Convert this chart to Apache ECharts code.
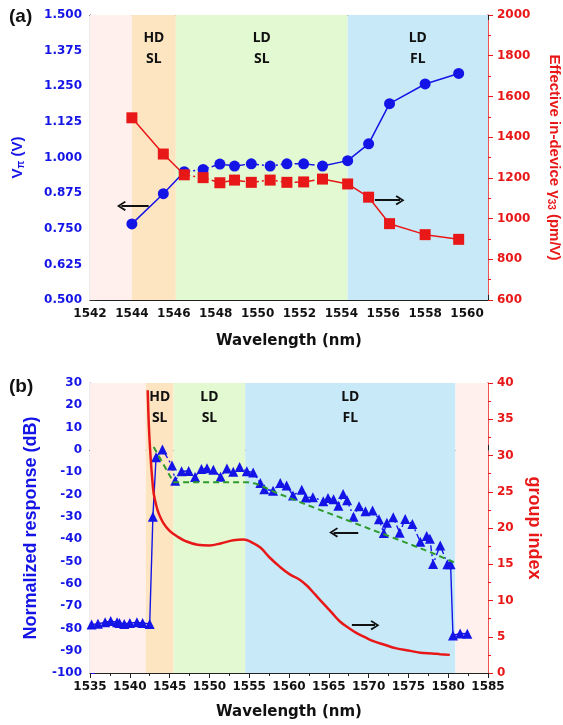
<!DOCTYPE html>
<html>
<head>
<meta charset="utf-8">
<script src="https://cdn.jsdelivr.net/npm/echarts@6/dist/echarts.min.js"></script>
<style>
  html, body { margin: 0; padding: 0; background: #fff; }
  #chart { width: 563px; height: 725px; }
</style>
</head>
<body>
<div id="chart"></div>
<script>
// ---- panel (a) ----
const wlA = [1544.0, 1545.5, 1546.5, 1547.4, 1548.2, 1548.9, 1549.7, 1550.6, 1551.4, 1552.2, 1553.1, 1554.3, 1555.3, 1556.3, 1558.0, 1559.6];
const vpi = [0.767, 0.873, 0.950, 0.958, 0.977, 0.970, 0.978, 0.970, 0.978, 0.978, 0.970, 0.989, 1.048, 1.189, 1.258, 1.295];
const r33 = [1495, 1317, 1215, 1201, 1176, 1189, 1178, 1189, 1178, 1180, 1194, 1170, 1105, 975, 921, 898];
const bandEdgesA = [1542, 1544, 1546.1, 1554.3, 1561];
const bandNamesA = ['', 'HD\nSL', 'LD\nSL', 'LD\nFL'];

// ---- panel (b) ----
const wlB = [1535.2, 1536.0, 1536.9, 1537.6, 1538.4, 1538.7, 1539.3, 1540.0, 1540.9, 1541.6, 1542.5,
  1542.9, 1543.3, 1544.1, 1545.3, 1545.7, 1546.5, 1547.4, 1548.2, 1549.0, 1549.7, 1550.5, 1551.4,
  1552.2, 1553.0, 1553.8, 1554.7, 1555.5, 1556.4, 1556.9, 1558.0, 1558.9, 1559.7, 1560.5, 1561.6,
  1562.1, 1563.0, 1564.3, 1564.9, 1565.6, 1566.2, 1566.8, 1567.3, 1568.1, 1568.8, 1569.6, 1570.5,
  1571.3, 1571.9, 1572.3, 1573.1, 1573.9, 1574.6, 1575.5, 1576.5, 1577.3, 1577.7, 1578.1, 1579.0,
  1579.9, 1580.3, 1580.6, 1581.5, 1582.4];
const resp = [-78.3, -77.9, -77.3, -76.7, -77.3, -77.6, -78.0, -77.6, -77.3, -77.6, -78.0,
  -30, -3.3, 0.2, -7.0, -13.8, -9.6, -9.4, -12.1, -8.5, -8.2, -8.9, -12.0,
  -8.3, -9.8, -7.6, -9.6, -10.1, -14.8, -17.6, -18.3, -14.8, -16.0, -20.4, -17.9,
  -21.3, -21.2, -23.0, -21.5, -22.1, -25.0, -19.8, -22.6, -30.0, -25.2, -27.5, -27.1,
  -31.1, -37.2, -32.6, -30.2, -37.1, -31.0, -33.2, -41.2, -38.6, -39.8, -51.1, -42.8,
  -51.2, -51.2, -83.2, -82.3, -82.4];
const fitWl = [1543.0, 1545.5, 1554.8, 1555.8, 1556.8, 1558.0, 1562.0, 1566.0, 1570.0, 1574.0, 1578.0, 1580.8];
const fitResp = [1.3, -14.5, -14.5, -15.1, -16.5, -18.6, -24.3, -29.7, -35.2, -40.6, -46.2, -50.5];
const ngWl = [1542.25, 1542.4, 1542.6, 1542.8, 1543.0, 1543.3, 1543.6, 1544.2, 1545.0, 1546.0, 1547.0,
  1548.5, 1550.0, 1551.5, 1553.0, 1554.3, 1555.2, 1556.4, 1557.5, 1558.9, 1560.1, 1561.3, 1562.3,
  1563.3, 1564.3, 1565.4, 1566.4, 1567.5, 1568.5, 1569.6, 1570.6, 1572.0, 1573.5, 1575.0, 1576.5,
  1578.0, 1579.0, 1580.2];
const ng = [39, 34, 30, 27, 24.8, 23.2, 22.1, 20.7, 19.6, 18.8, 18.2,
  17.7, 17.6, 17.9, 18.3, 18.4, 18.1, 17.3, 16.0, 14.6, 13.6, 12.9, 12.0,
  10.8, 9.6, 8.3, 7.1, 6.2, 5.5, 4.9, 4.4, 3.9, 3.4, 3.1, 2.8,
  2.7, 2.6, 2.5];
const bandEdgesB = [1535, 1542, 1545.5, 1554.5, 1580.9, 1585];
const bandNamesB = ['', 'HD\nSL', 'LD\nSL', 'LD\nFL', ''];

// styling
const BLUE = '#1414e6', RED = '#e81818', GREEN = '#2f9b2f';
const bandColorsA = ['#fff0ee', '#fde5c2', '#e2f9d1', '#c8eaf8'];
const bandColorsB = ['#fff0ee', '#fde5c2', '#e2f9d1', '#c8eaf8', '#fff0ee'];
const tickFont = { fontFamily: 'DejaVu Sans', fontWeight: 'bold', fontSize: 12 };
const dashDot = [6, 3, 2, 3];
const chevron = 'path://M5,0 L10,8 L8.6,9.2 L5,3.2 L1.4,9.2 L0,8 Z';
const plain = v => String(v);

function pairs(xs, ys, from, to) {
  const out = [];
  for (let i = from; i < to; i++) out.push([xs[i], ys[i]]);
  return out;
}
function areas(edges, names, colors) {
  return edges.slice(0, -1).map((e, i) => [
    { name: names[i], xAxis: e, itemStyle: { color: colors[i] } },
    { xAxis: edges[i + 1] }
  ]);
}
function arrow(x1, y1, x2, y2) {
  return [{ coord: [x1, y1] }, { coord: [x2, y2] }];
}
function arrowSeries(xi, yi, a) {
  return {
    type: 'line', xAxisIndex: xi, yAxisIndex: yi, data: [], z: 6,
    markLine: { silent: true, symbol: ['none', chevron], symbolSize: [10, 9], label: { show: false },
      lineStyle: { color: '#111', width: 2, type: 'solid' }, data: [a] }
  };
}

function xAxes(gridIndex, min, max, interval, nameGap) {
  return [{
    gridIndex, type: 'value', min, max, interval, position: 'bottom',
    name: 'Wavelength (nm)', nameLocation: 'middle', nameGap,
    nameTextStyle: { fontFamily: 'DejaVu Sans', fontWeight: 'bold', fontSize: 15, color: '#111' },
    axisLine: { lineStyle: { color: '#222', width: 1.2 } },
    axisTick: { inside: true, length: 5, lineStyle: { color: '#222' } },
    minorTick: { show: true, splitNumber: 2, length: 3, lineStyle: { color: '#222' } },
    axisLabel: Object.assign({ color: '#111', margin: 8, formatter: plain, showMaxLabel: (max - min) % interval === 0 }, tickFont),
    splitLine: { show: false }
  }, {
    gridIndex, type: 'value', min, max, interval, position: 'top',
    axisLine: { lineStyle: { color: '#222', width: 1.2 } },
    axisTick: { inside: true, length: 5, lineStyle: { color: '#222' } },
    minorTick: { show: true, splitNumber: 2, length: 3, lineStyle: { color: '#222' } },
    axisLabel: { show: false },
    splitLine: { show: false }
  }];
}

function bandLabel(distance) {
  return {
    show: true, position: 'insideTop', distance, color: '#111',
    fontFamily: 'Noto Sans', fontWeight: 'bold', fontSize: 14, lineHeight: 21
  };
}

const subRich = { sub: { fontSize: 10, fontFamily: 'Liberation Sans', fontWeight: 'bold', padding: [7, 0, 0, 0] } };

const option = {
  animation: false,
  title: [
    { text: '(a)', left: 4, top: 2, textStyle: { fontFamily: 'Liberation Sans', fontWeight: 'bold', fontSize: 19, color: '#111' } },
    { text: '(b)', left: 4, top: 372, textStyle: { fontFamily: 'Liberation Sans', fontWeight: 'bold', fontSize: 19, color: '#111' } }
  ],
  grid: [
    { left: 90, top: 15, width: 398, height: 285, outerBoundsMode: 'none', containLabel: false },
    { left: 90, top: 383, width: 398, height: 290, outerBoundsMode: 'none', containLabel: false }
  ],
  xAxis: [].concat(xAxes(0, 1542, 1561, 2, 34), xAxes(1, 1535, 1585, 5, 32)),
  yAxis: [
    {
      gridIndex: 0, type: 'value', min: 0.5, max: 1.5, interval: 0.125, position: 'left',
      name: 'V{sub|π} (V)', nameLocation: 'middle', nameGap: 64,
      nameTextStyle: { fontFamily: 'Liberation Sans', fontWeight: 'bold', fontSize: 15, color: BLUE, rich: subRich },
      axisLine: { lineStyle: { color: '#333', width: 1.2 } },
      axisTick: { inside: true, length: 5, lineStyle: { color: '#333' } },
      minorTick: { show: true, splitNumber: 2, length: 3, lineStyle: { color: '#333' } },
      axisLabel: Object.assign({ color: BLUE, margin: 8, formatter: v => v.toFixed(3) }, tickFont),
      splitLine: { show: false }
    },
    {
      gridIndex: 0, type: 'value', min: 600, max: 2000, interval: 200, position: 'right',
      name: 'Effective in-device γ{sub|33} (pm/V)', nameLocation: 'middle', nameGap: 58, nameRotate: -90,
      nameTextStyle: { fontFamily: 'Liberation Sans', fontWeight: 'bold', fontSize: 15, color: RED, rich: subRich },
      axisLine: { lineStyle: { color: RED, width: 1.5 } },
      axisTick: { inside: false, length: 5, lineStyle: { color: RED } },
      minorTick: { show: true, splitNumber: 2, length: 3, lineStyle: { color: RED } },
      axisLabel: Object.assign({ color: RED, margin: 9, formatter: plain }, tickFont),
      splitLine: { show: false }
    },
    {
      gridIndex: 1, type: 'value', min: -100, max: 30, interval: 10, position: 'left',
      name: 'Normalized response (dB)', nameLocation: 'middle', nameGap: 50,
      nameTextStyle: { fontFamily: 'Liberation Sans', fontWeight: 'bold', fontSize: 18, color: BLUE },
      axisLine: { lineStyle: { color: '#4a4aa8', width: 1.2 } },
      axisTick: { inside: true, length: 5, lineStyle: { color: BLUE } },
      minorTick: { show: true, splitNumber: 2, length: 3, lineStyle: { color: BLUE } },
      axisLabel: Object.assign({ color: BLUE, margin: 8, formatter: plain }, tickFont),
      splitLine: { show: false }
    },
    {
      gridIndex: 1, type: 'value', min: 0, max: 40, interval: 5, position: 'right',
      name: 'group index', nameLocation: 'middle', nameGap: 36, nameRotate: -90,
      nameTextStyle: { fontFamily: 'Liberation Sans', fontWeight: 'bold', fontSize: 18, color: RED },
      axisLine: { lineStyle: { color: RED, width: 1.5 } },
      axisTick: { inside: false, length: 5, lineStyle: { color: RED } },
      minorTick: { show: true, splitNumber: 2, length: 3, lineStyle: { color: RED } },
      axisLabel: Object.assign({ color: RED, margin: 9, formatter: plain }, tickFont),
      splitLine: { show: false }
    }
  ],
  series: [
    // ---------- (a) ----------
    {
      type: 'line', xAxisIndex: 0, yAxisIndex: 0, data: [], z: 1, silent: true,
      markArea: { silent: true, label: bandLabel(13), data: areas(bandEdgesA, bandNamesA, bandColorsA) }
    },
    { type: 'line', xAxisIndex: 0, yAxisIndex: 0, z: 3, symbol: 'none', data: pairs(wlA, vpi, 0, 3), lineStyle: { color: BLUE, width: 1.5 } },
    { type: 'line', xAxisIndex: 0, yAxisIndex: 0, z: 3, symbol: 'none', data: pairs(wlA, vpi, 2, 11), lineStyle: { color: BLUE, width: 1.5, type: dashDot } },
    { type: 'line', xAxisIndex: 0, yAxisIndex: 0, z: 3, symbol: 'none', data: pairs(wlA, vpi, 10, wlA.length), lineStyle: { color: BLUE, width: 1.5 } },
    { type: 'scatter', xAxisIndex: 0, yAxisIndex: 0, z: 4, symbol: 'circle', symbolSize: 11, data: pairs(wlA, vpi, 0, wlA.length), itemStyle: { color: BLUE, opacity: 1 } },
    { type: 'line', xAxisIndex: 0, yAxisIndex: 1, z: 3, symbol: 'none', data: pairs(wlA, r33, 0, 3), lineStyle: { color: RED, width: 1.5 } },
    { type: 'line', xAxisIndex: 0, yAxisIndex: 1, z: 3, symbol: 'none', data: pairs(wlA, r33, 2, 11), lineStyle: { color: RED, width: 1.5, type: dashDot } },
    { type: 'line', xAxisIndex: 0, yAxisIndex: 1, z: 3, symbol: 'none', data: pairs(wlA, r33, 10, wlA.length), lineStyle: { color: RED, width: 1.5 } },
    { type: 'scatter', xAxisIndex: 0, yAxisIndex: 1, z: 4, symbol: 'rect', symbolSize: 11, data: pairs(wlA, r33, 0, wlA.length), itemStyle: { color: RED, opacity: 1 } },
    arrowSeries(0, 0, arrow(1544.8, 0.83, 1543.5, 0.83)),
    arrowSeries(0, 1, arrow(1555.6, 1090, 1556.8, 1090)),

    // ---------- (b) ----------
    {
      type: 'line', xAxisIndex: 2, yAxisIndex: 2, data: [], z: 1, silent: true,
      markArea: { silent: true, label: bandLabel(4), data: areas(bandEdgesB, bandNamesB, bandColorsB) }
    },
    { type: 'line', xAxisIndex: 2, yAxisIndex: 2, z: 3, symbol: 'none', data: pairs(wlB, resp, 0, 13), lineStyle: { color: BLUE, width: 1.4 } },
    { type: 'line', xAxisIndex: 2, yAxisIndex: 2, z: 3, symbol: 'none', data: pairs(wlB, resp, 12, 61), lineStyle: { color: BLUE, width: 1.4, type: dashDot } },
    { type: 'line', xAxisIndex: 2, yAxisIndex: 2, z: 3, symbol: 'none', data: pairs(wlB, resp, 60, wlB.length), lineStyle: { color: BLUE, width: 1.4 } },
    { type: 'scatter', xAxisIndex: 2, yAxisIndex: 2, z: 4, symbol: 'triangle', symbolSize: 10, data: pairs(wlB, resp, 0, wlB.length), itemStyle: { color: BLUE, opacity: 1 } },
    { type: 'line', xAxisIndex: 2, yAxisIndex: 2, z: 5, symbol: 'none', data: pairs(fitWl, fitResp, 0, fitWl.length), lineStyle: { color: GREEN, width: 2, type: [6, 4] } },
    { type: 'line', xAxisIndex: 2, yAxisIndex: 3, z: 5, symbol: 'none', smooth: 0.4, data: pairs(ngWl, ng, 0, ngWl.length), lineStyle: { color: RED, width: 2.5 } },
    arrowSeries(2, 2, arrow(1568.7, -37, 1565.6, -37)),
    arrowSeries(2, 3, arrow(1567.9, 6.6, 1570.8, 6.6))
  ]
};

echarts.init(document.getElementById('chart')).setOption(option);
</script>
</body>
</html>
